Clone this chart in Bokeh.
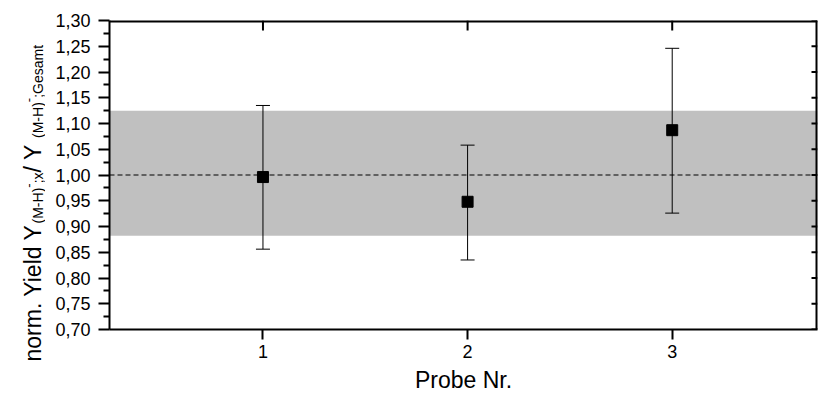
import math
from bokeh.plotting import figure
from bokeh.layouts import row
from bokeh.models import Range1d, FixedTicker, CustomJSTickFormatter, ColumnDataSource
from bokeh.core.properties import value
from bokeh.embed import file_html
from bokeh.resources import INLINE

# ---------------- data ----------------
probe = [1, 2, 3]
yield_norm = [0.996, 0.948, 1.087]
err_low = [0.856, 0.835, 0.926]
err_high = [1.135, 1.058, 1.246]
band_low = 0.882
band_high = 1.125
ref_level = 1.0
y_ticks = [0.70, 0.75, 0.80, 0.85, 0.90, 0.95, 1.00, 1.05, 1.10, 1.15, 1.20, 1.25, 1.30]
y_minor = [0.725, 0.775, 0.825, 0.875, 0.925, 0.975, 1.025, 1.075, 1.125, 1.175, 1.225, 1.275]
x_label = "Probe Nr."
y_label_parts = ["norm. Yield Y", "(M-H)", "-", ";x", " / Y", "(M-H)", "-", ";Gesamt"]
y_label_kinds = ["main", "sub", "sup", "sub", "main", "sub", "sup", "sub"]

FONT = "Liberation Sans"
X0, X1 = 0.25, 3.71
Y0, Y1 = 0.70, 1.30
W, H = 818, 399
LW = 45                      # width of the y-label strip
FL, FR, FT, FB = 64, 1, 20, 70
FW = W - LW - FL - FR
FH = H - FT - FB

src = ColumnDataSource(dict(x=probe, y=yield_norm, lo=err_low, hi=err_high))

p = figure(width=W - LW, height=H, frame_width=FW, frame_height=FH, title=None,
           x_range=Range1d(X0, X1), y_range=Range1d(Y0, Y1),
           output_backend="svg", toolbar_location=None,
           min_border_left=FL, min_border_right=FR, min_border_top=FT, min_border_bottom=FB)
p.xgrid.visible = False
p.ygrid.visible = False
p.outline_line_color = None
p.background_fill_color = "white"
p.border_fill_color = "white"

# bottom axis
xa = p.xaxis[0]
xa.ticker = FixedTicker(ticks=probe)
xa.major_tick_in = 0
xa.major_tick_out = 10
xa.minor_tick_line_color = None
xa.axis_line_width = 2
xa.major_tick_line_width = 2
xa.major_label_text_font = FONT
xa.major_label_text_font_size = "18px"
xa.major_label_text_color = "black"
xa.major_label_standoff = 5
xa.axis_label = x_label
xa.axis_label_text_font = FONT
xa.axis_label_text_font_size = "23px"
xa.axis_label_text_font_style = "normal"
xa.axis_label_text_color = "black"
xa.axis_label_standoff = 6

# left axis
ya = p.yaxis[0]
ya.ticker = FixedTicker(ticks=y_ticks, minor_ticks=y_minor)
ya.formatter = CustomJSTickFormatter(code="return tick.toFixed(2).replace('.', ',');")
ya.major_tick_in = 0
ya.major_tick_out = 11
ya.minor_tick_in = 0
ya.minor_tick_out = 6
ya.axis_line_width = 2
ya.major_tick_line_width = 2
ya.minor_tick_line_width = 2
ya.major_label_text_font = FONT
ya.major_label_text_font_size = "18px"
ya.major_label_text_color = "black"
ya.major_label_standoff = 8

# grey band and reference line at 1
p.quad(left=[X0], right=[X1], bottom=[band_low], top=[band_high],
       fill_color="#c0c0c0", line_color=None, level="underlay")
p.line(x=[X0, X1], y=[ref_level, ref_level], line_color="black", line_width=1,
       line_dash="5 3", level="underlay")

# error bars with caps
p.segment(x0="x", y0="lo", x1="x", y1="hi", source=src, line_color="black", line_width=1)
p.scatter("x", "lo", source=src, marker="dash", size=14, line_color="black", line_width=1)
p.scatter("x", "hi", source=src, marker="dash", size=14, line_color="black", line_width=1)

# data points
p.scatter("x", "y", source=src, marker="square", size=11, fill_color="black", line_color="black",
          line_width=1)

# top and right frame edges with inward ticks
px = (X1 - X0) / FW
py = (Y1 - Y0) / FH
p.segment(x0=[X0, X1], y0=[Y1, Y0], x1=[X1, X1], y1=[Y1, Y1], line_color="black", line_width=4)
p.segment(x0=probe, y0=[Y1] * len(probe), x1=probe, y1=[Y1 - 10 * py] * len(probe),
          line_color="black", line_width=2)
p.segment(x0=[X1] * len(y_ticks), y0=y_ticks, x1=[X1 - 6 * px] * len(y_ticks), y1=y_ticks,
          line_color="black", line_width=2)

# ---------------- y-axis label strip (sub/superscripts) ----------------
widths = {'n': 556, 'o': 556, 'r': 333, 'm': 833, '.': 278, ' ': 278, 'Y': 667, 'i': 222, 'e': 556,
          'l': 222, 'd': 556, '(': 333, 'M': 833, '-': 333, 'H': 722, ')': 333, ';': 278, 'x': 500,
          '/': 278, 'G': 778, 's': 500, 'a': 556, 't': 278}
style = {"main": (23, 32), "sub": (14, 37), "sup": (13, 28)}
lx, ly, lfs = [], [], []
y_canvas = 341.0
for txt, kind in zip(y_label_parts, y_label_kinds):
    fs, bx = style[kind]
    lx.append(bx)
    ly.append(H - y_canvas)
    lfs.append(f"{fs}px")
    y_canvas -= sum(widths.get(c, 556) for c in txt) / 1000.0 * fs

lab = figure(width=LW, height=H, frame_width=LW, frame_height=H, title=None,
             x_range=Range1d(0, LW), y_range=Range1d(0, H),
             output_backend="svg", toolbar_location=None,
             x_axis_location=None, y_axis_location=None, min_border=0)
lab.grid.visible = False
lab.outline_line_color = None
lab.background_fill_color = "white"
lab.border_fill_color = "white"
lab.text(x=lx, y=ly, text=y_label_parts, angle=math.pi / 2, text_font=value(FONT),
         text_font_size=lfs, text_align="left", text_baseline="alphabetic", text_color="black")

layout = row(lab, p, spacing=0)
open("out.html", "w").write(file_html(layout, INLINE))
